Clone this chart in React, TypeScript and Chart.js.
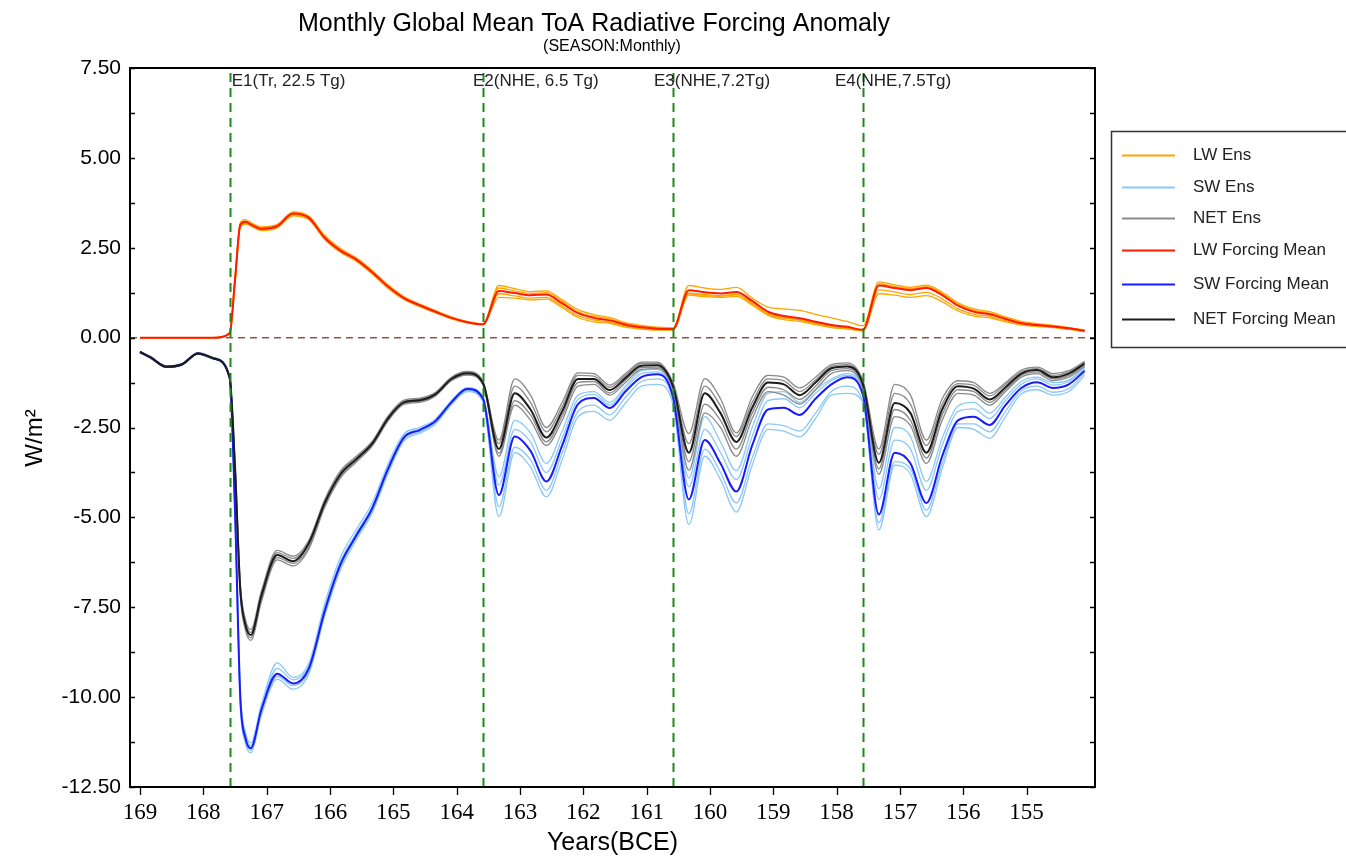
import React, { useEffect, useRef } from 'react';
import { Chart, registerables } from 'chart.js';

Chart.register(...registerables);

// ---- data ----
const startYear = 169; // BCE, month 0
const months = [0, 2, 5, 8, 11, 14, 17, 18, 19, 20, 21, 23, 26, 29, 32, 35, 38, 41, 44, 47, 50, 53, 56, 59, 62, 65, 68, 71, 74, 77, 80, 83, 86, 89, 92, 95, 98, 101, 104, 107, 110, 113, 116, 119, 122, 125, 128, 131, 134, 137, 140, 143, 146, 149, 152, 155, 158, 161, 164, 167, 170, 173, 176, 179];

const lwMean = [0, 0, 0, 0, 0, 0, 0.12, 1.6, 3.13, 3.22, 3.15, 3.03, 3.1, 3.45, 3.33, 2.78, 2.42, 2.17, 1.82, 1.42, 1.1, 0.9, 0.72, 0.55, 0.43, 0.37, 1.3, 1.24, 1.18, 1.2, 0.95, 0.68, 0.55, 0.48, 0.36, 0.29, 0.25, 0.24, 1.32, 1.26, 1.23, 1.27, 1.02, 0.72, 0.6, 0.54, 0.44, 0.35, 0.3, 0.22, 1.45, 1.38, 1.32, 1.38, 1.18, 0.89, 0.72, 0.65, 0.52, 0.4, 0.35, 0.31, 0.26, 0.19];
const lwEnsA = [0, 0, 0, 0, 0, 0, 0.14, 1.7, 3.2, 3.28, 3.2, 3.08, 3.15, 3.5, 3.38, 2.84, 2.48, 2.22, 1.87, 1.47, 1.14, 0.93, 0.75, 0.58, 0.45, 0.38, 1.45, 1.36, 1.28, 1.3, 1.05, 0.78, 0.64, 0.56, 0.42, 0.34, 0.29, 0.27, 1.45, 1.38, 1.34, 1.4, 1.1, 0.85, 0.8, 0.76, 0.65, 0.55, 0.45, 0.33, 1.55, 1.47, 1.4, 1.46, 1.26, 0.97, 0.8, 0.72, 0.58, 0.45, 0.39, 0.34, 0.28, 0.21];
const lwEnsB = [0, 0, 0, 0, 0, 0, 0.1, 1.5, 3.07, 3.16, 3.1, 2.98, 3.05, 3.39, 3.28, 2.73, 2.37, 2.12, 1.77, 1.37, 1.06, 0.86, 0.69, 0.52, 0.41, 0.36, 1.12, 1.1, 1.05, 1.07, 0.83, 0.56, 0.44, 0.4, 0.29, 0.24, 0.21, 0.21, 1.18, 1.14, 1.12, 1.15, 0.9, 0.62, 0.5, 0.45, 0.36, 0.28, 0.24, 0.19, 1.22, 1.18, 1.12, 1.17, 1.0, 0.74, 0.6, 0.55, 0.44, 0.35, 0.31, 0.28, 0.23, 0.17];
const lwEnsC = [0, 0, 0, 0, 0, 0, 0.12, 1.62, 3.15, 3.24, 3.17, 3.05, 3.12, 3.47, 3.35, 2.8, 2.44, 2.19, 1.84, 1.44, 1.12, 0.91, 0.73, 0.56, 0.44, 0.37, 1.38, 1.3, 1.23, 1.25, 1.0, 0.72, 0.59, 0.52, 0.39, 0.31, 0.27, 0.25, 1.24, 1.2, 1.17, 1.21, 0.97, 0.67, 0.56, 0.5, 0.41, 0.32, 0.27, 0.21, 1.5, 1.42, 1.36, 1.42, 1.22, 0.93, 0.76, 0.68, 0.55, 0.42, 0.37, 0.33, 0.27, 0.2];
const lwEnsD = [0, 0, 0, 0, 0, 0, 0.11, 1.56, 3.1, 3.19, 3.13, 3.01, 3.08, 3.43, 3.31, 2.76, 2.4, 2.15, 1.8, 1.4, 1.08, 0.88, 0.71, 0.54, 0.42, 0.37, 1.22, 1.16, 1.1, 1.12, 0.88, 0.61, 0.49, 0.43, 0.32, 0.26, 0.23, 0.22, 1.22, 1.17, 1.15, 1.19, 0.94, 0.66, 0.54, 0.49, 0.39, 0.31, 0.26, 0.2, 1.33, 1.27, 1.2, 1.26, 1.08, 0.8, 0.65, 0.59, 0.47, 0.37, 0.33, 0.29, 0.24, 0.18];

const swMean = [-0.4, -0.55, -0.81, -0.74, -0.44, -0.58, -1.12, -4.8, -10.0, -11.15, -11.42, -10.35, -9.35, -9.62, -9.2, -7.6, -6.3, -5.5, -4.75, -3.65, -2.78, -2.57, -2.32, -1.8, -1.43, -1.7, -4.38, -2.75, -3.15, -4.0, -3.0, -1.85, -1.68, -1.96, -1.5, -1.1, -1.02, -1.65, -4.5, -2.85, -3.5, -4.28, -3.0, -2.0, -1.95, -2.15, -1.7, -1.3, -1.1, -1.6, -4.92, -3.2, -3.5, -4.6, -3.3, -2.3, -2.2, -2.43, -1.88, -1.4, -1.24, -1.4, -1.3, -0.92];
const swEnsA = [-0.38, -0.53, -0.79, -0.72, -0.42, -0.56, -1.08, -4.6, -9.8, -10.98, -11.27, -10.2, -9.05, -9.45, -9.05, -7.4, -6.1, -5.33, -4.6, -3.52, -2.68, -2.5, -2.26, -1.75, -1.39, -1.65, -3.87, -2.3, -2.65, -3.5, -2.6, -1.6, -1.5, -1.8, -1.35, -0.92, -0.88, -1.5, -3.9, -2.2, -2.9, -3.7, -2.5, -1.55, -1.5, -1.8, -1.45, -1.15, -1.0, -1.45, -4.2, -2.5, -2.75, -4.0, -2.8, -1.9, -1.8, -2.1, -1.65, -1.22, -1.1, -1.25, -1.18, -0.82];
const swEnsB = [-0.42, -0.57, -0.83, -0.76, -0.46, -0.6, -1.15, -5.0, -10.2, -11.3, -11.55, -10.5, -9.5, -9.78, -9.35, -7.75, -6.45, -5.62, -4.88, -3.78, -2.88, -2.66, -2.4, -1.87, -1.5, -1.78, -4.98, -3.2, -3.6, -4.43, -3.4, -2.2, -2.05, -2.3, -1.82, -1.35, -1.3, -1.85, -5.2, -3.3, -3.95, -4.85, -3.55, -2.55, -2.6, -2.76, -2.25, -1.6, -1.55, -1.8, -5.35, -3.55, -3.8, -4.98, -3.65, -2.5, -2.55, -2.8, -2.2, -1.56, -1.45, -1.6, -1.5, -1.05];
const swEnsC = [-0.4, -0.54, -0.8, -0.73, -0.43, -0.57, -1.1, -4.7, -9.9, -11.05, -11.35, -10.3, -9.2, -9.52, -9.12, -7.52, -6.22, -5.44, -4.7, -3.6, -2.74, -2.54, -2.29, -1.78, -1.41, -1.68, -4.1, -2.55, -2.9, -3.75, -2.8, -1.72, -1.58, -1.88, -1.42, -1.0, -0.95, -1.58, -4.15, -2.55, -3.2, -3.95, -2.75, -1.75, -1.7, -1.95, -1.55, -1.2, -1.05, -1.52, -4.5, -2.85, -3.1, -4.25, -3.0, -2.05, -1.98, -2.25, -1.75, -1.3, -1.15, -1.32, -1.22, -0.86];
const swEnsD = [-0.41, -0.56, -0.82, -0.75, -0.45, -0.59, -1.13, -4.9, -10.1, -11.22, -11.48, -10.42, -9.42, -9.68, -9.28, -7.68, -6.38, -5.56, -4.82, -3.72, -2.83, -2.62, -2.36, -1.84, -1.47, -1.74, -4.7, -3.05, -3.4, -4.25, -3.2, -2.05, -1.88, -2.15, -1.66, -1.22, -1.15, -1.75, -4.9, -3.1, -3.75, -4.6, -3.35, -2.4, -2.45, -2.6, -2.1, -1.5, -1.35, -1.8, -5.15, -3.45, -3.65, -4.8, -3.5, -2.4, -2.4, -2.62, -2.05, -1.48, -1.35, -1.52, -1.42, -0.98];

const netMean = [-0.4, -0.55, -0.81, -0.74, -0.44, -0.58, -1.12, -3.6, -7.0, -8.0, -8.27, -7.18, -6.05, -6.22, -5.72, -4.6, -3.8, -3.38, -2.95, -2.25, -1.8, -1.74, -1.57, -1.15, -0.99, -1.27, -3.1, -1.55, -2.0, -2.78, -2.05, -1.15, -1.15, -1.46, -1.12, -0.78, -0.77, -1.35, -3.2, -1.55, -2.1, -2.9, -1.95, -1.25, -1.3, -1.6, -1.25, -0.85, -0.8, -1.3, -3.48, -1.82, -2.1, -3.2, -2.0, -1.35, -1.42, -1.72, -1.38, -1.0, -0.9, -1.1, -1.0, -0.72];
const netEnsA = [-0.38, -0.53, -0.79, -0.72, -0.42, -0.56, -1.08, -3.45, -6.85, -7.85, -8.12, -7.05, -5.92, -6.08, -5.63, -4.5, -3.7, -3.3, -2.88, -2.18, -1.74, -1.68, -1.52, -1.1, -0.94, -1.22, -2.85, -1.15, -1.6, -2.5, -1.8, -0.98, -1.0, -1.32, -1.0, -0.68, -0.68, -1.25, -2.67, -1.14, -1.7, -2.65, -1.65, -1.05, -1.1, -1.4, -1.1, -0.75, -0.7, -1.2, -3.1, -1.3, -1.6, -2.85, -1.7, -1.2, -1.25, -1.55, -1.25, -0.9, -0.82, -1.0, -0.92, -0.66];
const netEnsB = [-0.42, -0.57, -0.83, -0.76, -0.46, -0.6, -1.15, -3.75, -7.15, -8.15, -8.42, -7.35, -6.18, -6.35, -5.88, -4.72, -3.9, -3.46, -3.02, -2.32, -1.86, -1.8, -1.62, -1.2, -1.04, -1.32, -3.3, -1.88, -2.3, -3.0, -2.3, -1.35, -1.3, -1.6, -1.25, -0.88, -0.86, -1.45, -3.69, -2.1, -2.5, -3.3, -2.25, -1.5, -1.6, -1.85, -1.45, -1.0, -0.92, -1.42, -3.8, -2.2, -2.45, -3.5, -2.3, -1.55, -1.6, -1.88, -1.5, -1.1, -1.0, -1.2, -1.1, -0.8];
const netEnsC = [-0.39, -0.54, -0.8, -0.73, -0.43, -0.57, -1.1, -3.5, -6.92, -7.92, -8.2, -7.12, -5.98, -6.14, -5.69, -4.55, -3.75, -3.34, -2.91, -2.21, -1.77, -1.71, -1.55, -1.12, -0.96, -1.24, -2.95, -1.35, -1.8, -2.62, -1.92, -1.05, -1.07, -1.38, -1.05, -0.72, -0.72, -1.3, -2.95, -1.35, -1.9, -2.75, -1.8, -1.15, -1.2, -1.5, -1.18, -0.8, -0.75, -1.25, -3.25, -1.55, -1.85, -3.0, -1.85, -1.28, -1.33, -1.62, -1.3, -0.95, -0.86, -1.05, -0.96, -0.69];
const netEnsD = [-0.41, -0.56, -0.82, -0.75, -0.45, -0.59, -1.13, -3.68, -7.08, -8.08, -8.35, -7.28, -6.12, -6.28, -5.82, -4.67, -3.86, -3.42, -2.99, -2.29, -1.83, -1.77, -1.6, -1.18, -1.02, -1.3, -3.22, -1.75, -2.15, -2.9, -2.18, -1.25, -1.22, -1.54, -1.18, -0.83, -0.82, -1.4, -3.45, -1.85, -2.3, -3.1, -2.1, -1.38, -1.45, -1.72, -1.35, -0.92, -0.86, -1.36, -3.65, -2.0, -2.3, -3.35, -2.15, -1.45, -1.5, -1.8, -1.44, -1.05, -0.95, -1.15, -1.05, -0.76];

const yearTicks = [169, 168, 167, 166, 165, 164, 163, 162, 161, 160, 159, 158, 157, 156, 155];
const yLabelTicks = [7.5, 5, 2.5, 0, -2.5, -5, -7.5, -10, -12.5];
const yAllTicks = [7.5, 6.25, 5, 3.75, 2.5, 1.25, 0, -1.25, -2.5, -3.75, -5, -6.25, -7.5, -8.75, -10, -11.25, -12.5];
const eruptionMonths = [17, 65, 101, 137];
const eruptionLabels = ['E1(Tr, 22.5 Tg)', 'E2(NHE, 6.5 Tg)', 'E3(NHE,7.2Tg)', 'E4(NHE,7.5Tg)'];
const legendLabels = ['LW Ens', 'SW Ens', 'NET Ens', 'LW Forcing Mean', 'SW Forcing Mean', 'NET Forcing Mean'];

// ---- styles ----
const C_LW_ENS = '#ffa500';
const C_SW_ENS = '#8cc8f8';
const C_NET_ENS = '#8a8a8a';
const C_LW = '#ff1a00';
const C_SW = '#1a1aff';
const C_NET = '#1c1c1c';
const legendColors = [C_LW_ENS, C_SW_ENS, C_NET_ENS, C_LW, C_SW, C_NET];
const SANS = '"Liberation Sans", Arial, Helvetica, sans-serif';
const SERIF = '"Liberation Serif", "Times New Roman", serif';

const toYear = (m: number) => startYear - m / 12;
const series = (vals: number[]) => months.map((m, i) => ({ x: toYear(m), y: vals[i] }));

const ensDs = (vals: number[], color: string, order: number) => ({
  data: series(vals),
  borderColor: color,
  borderWidth: 1.3,
  pointRadius: 0,
  order,
});
const meanDs = (vals: number[], color: string, order: number) => ({
  data: series(vals),
  borderColor: color,
  borderWidth: 2,
  pointRadius: 0,
  order,
});

const decorPlugin = {
  id: 'decor',
  beforeDatasetsDraw(chart: any) {
    const { ctx, chartArea: a, scales } = chart;
    const y0 = scales.y.getPixelForValue(0);
    ctx.save();
    ctx.strokeStyle = '#8b5a44';
    ctx.lineWidth = 1.5;
    ctx.setLineDash([7, 5]);
    ctx.beginPath();
    ctx.moveTo(a.left, y0);
    ctx.lineTo(a.right, y0);
    ctx.stroke();
    ctx.restore();
  },
  afterDatasetsDraw(chart: any) {
    const { ctx, chartArea: a, scales } = chart;
    const xs = scales.x;
    const ys = scales.y;
    ctx.save();
    // eruption lines
    ctx.strokeStyle = '#1e881e';
    ctx.lineWidth = 2;
    ctx.setLineDash([9, 6]);
    eruptionMonths.forEach((m) => {
      const px = Math.round(xs.getPixelForValue(toYear(m))) + 0.5;
      ctx.beginPath();
      ctx.moveTo(px, a.bottom);
      ctx.lineTo(px, a.top);
      ctx.stroke();
    });
    ctx.setLineDash([]);
    // frame
    ctx.strokeStyle = '#000';
    ctx.lineWidth = 2;
    ctx.strokeRect(a.left, a.top, a.right - a.left, a.bottom - a.top);
    // y ticks (inward, both sides)
    ctx.lineWidth = 1.3;
    yAllTicks.forEach((v) => {
      const py = Math.round(ys.getPixelForValue(v)) + 0.5;
      ctx.beginPath();
      ctx.moveTo(a.left, py);
      ctx.lineTo(a.left + 5, py);
      ctx.moveTo(a.right, py);
      ctx.lineTo(a.right - 5, py);
      ctx.stroke();
    });
    // x ticks (outward)
    yearTicks.forEach((v) => {
      const px = Math.round(xs.getPixelForValue(v)) + 0.5;
      ctx.beginPath();
      ctx.moveTo(px, a.bottom);
      ctx.lineTo(px, a.bottom + 8);
      ctx.stroke();
    });
    // eruption labels
    const offsets = [2, -10, -19, -28];
    ctx.fillStyle = '#222';
    ctx.font = `17px ${SANS}`;
    ctx.textAlign = 'left';
    ctx.textBaseline = 'middle';
    eruptionMonths.forEach((m, i) => {
      const px = xs.getPixelForValue(toYear(m));
      ctx.fillText(eruptionLabels[i], px + offsets[i], a.top + 13);
    });
    ctx.restore();
  },
  afterDraw(chart: any) {
    const { ctx, chartArea: a } = chart;
    ctx.save();
    ctx.fillStyle = '#000';
    ctx.textAlign = 'center';
    ctx.textBaseline = 'middle';
    ctx.font = `25px ${SANS}`;
    ctx.fillText('Monthly Global Mean ToA Radiative Forcing Anomaly', 594, 24);
    ctx.font = `16px ${SANS}`;
    ctx.fillText('(SEASON:Monthly)', 612, 47);
    ctx.font = `25px ${SANS}`;
    ctx.fillText('Years(BCE)', (a.left + a.right) / 2, 843);
    ctx.save();
    ctx.translate(35, 438);
    ctx.rotate(-Math.PI / 2);
    ctx.font = `24px ${SANS}`;
    ctx.fillText('W/m\u00B2', 0, 0);
    ctx.restore();
    // legend
    ctx.strokeStyle = '#333';
    ctx.lineWidth = 1.5;
    ctx.strokeRect(1111.5, 131.5, 260, 216);
    const rows = [155, 187, 218, 250, 284, 319];
    ctx.textAlign = 'left';
    ctx.font = `17px ${SANS}`;
    legendLabels.forEach((lab, i) => {
      ctx.strokeStyle = legendColors[i];
      ctx.lineWidth = 2;
      ctx.beginPath();
      ctx.moveTo(1122, rows[i] + 0.5);
      ctx.lineTo(1175, rows[i] + 0.5);
      ctx.stroke();
      ctx.fillStyle = '#222';
      ctx.fillText(lab, 1193, rows[i]);
    });
    ctx.restore();
  },
};

export default function App() {
  const ref = useRef<HTMLCanvasElement | null>(null);
  useEffect(() => {
    document.body.style.margin = '0';
    const canvas = ref.current;
    if (!canvas) return;
    const chart = new Chart(canvas, {
      type: 'line',
      data: {
        datasets: [
          meanDs(netMean, C_NET, 0),
          meanDs(swMean, C_SW, 1),
          meanDs(lwMean, C_LW, 2),
          ensDs(netEnsA, C_NET_ENS, 3),
          ensDs(netEnsB, C_NET_ENS, 3),
          ensDs(netEnsC, C_NET_ENS, 3),
          ensDs(netEnsD, C_NET_ENS, 3),
          ensDs(swEnsA, C_SW_ENS, 4),
          ensDs(swEnsB, C_SW_ENS, 4),
          ensDs(swEnsC, C_SW_ENS, 4),
          ensDs(swEnsD, C_SW_ENS, 4),
          ensDs(lwEnsA, C_LW_ENS, 5),
          ensDs(lwEnsB, C_LW_ENS, 5),
          ensDs(lwEnsC, C_LW_ENS, 5),
          ensDs(lwEnsD, C_LW_ENS, 5),
        ] as any,
      },
      options: {
        animation: false,
        responsive: false,
        devicePixelRatio: 1,
        layout: { padding: { top: 68, right: 251, left: 0, bottom: 0 } },
        elements: { line: { cubicInterpolationMode: 'monotone' }, point: { radius: 0 } },
        plugins: { legend: { display: false }, title: { display: false }, tooltip: { enabled: false } },
        scales: {
          x: {
            type: 'linear',
            reverse: true,
            min: 153.92,
            max: 169.158,
            grid: { display: false, drawTicks: false },
            border: { display: false },
            ticks: {
              autoSkip: false,
              maxRotation: 0,
              padding: 12,
              color: '#000',
              font: { family: SERIF, size: 23 },
              callback: (v: any) => String(v),
            },
            afterBuildTicks: (s: any) => {
              s.ticks = yearTicks.map((v) => ({ value: v }));
            },
            afterFit: (s: any) => {
              s.height = 69;
              s.paddingLeft = 0;
              s.paddingRight = 0;
            },
          },
          y: {
            type: 'linear',
            min: -12.5,
            max: 7.5,
            grid: { display: false, drawTicks: false },
            border: { display: false },
            ticks: {
              autoSkip: false,
              padding: 9,
              color: '#000',
              font: { family: SANS, size: 21 },
              callback: (v: any) => Number(v).toFixed(2),
            },
            afterBuildTicks: (s: any) => {
              s.ticks = yLabelTicks.map((v) => ({ value: v }));
            },
            afterFit: (s: any) => {
              s.width = 130;
              s.paddingTop = 0;
              s.paddingBottom = 0;
            },
          },
        },
      } as any,
      plugins: [decorPlugin],
    });
    return () => chart.destroy();
  }, []);
  return (
    <div style={{ width: 1346, height: 856, background: '#fff' }}>
      <canvas ref={ref} width={1346} height={856} style={{ display: 'block' }} />
    </div>
  );
}
